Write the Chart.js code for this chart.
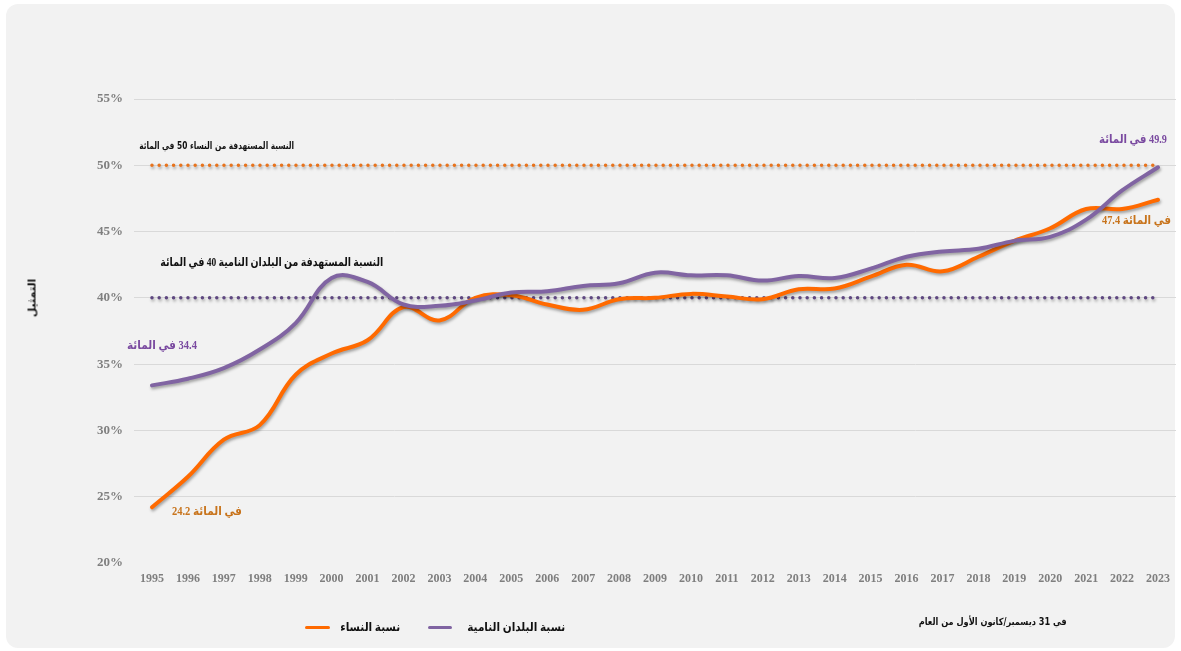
<!DOCTYPE html>
<html lang="ar">
<head>
<meta charset="utf-8">
<script src="https://cdn.jsdelivr.net/npm/chart.js@4/dist/chart.umd.min.js"></script>
<style>
  html, body { margin:0; padding:0; background:#ffffff; }
  #wrap { position:relative; width:1181px; height:651px; overflow:hidden; }
  #panel { position:absolute; left:6px; top:4px; width:1169px; height:644px; background:#f2f2f2; border-radius:12px; }
  #c { position:absolute; left:0; top:0; }
  .lbl { position:absolute; white-space:nowrap; font-weight:bold; direction:rtl; transform-origin:100% 50%;
         font-family:"Liberation Serif","DejaVu Sans",serif; }
  .sw { position:absolute; height:3px; border-radius:2px; }
</style>
</head>
<body>
<div id="wrap">
  <div id="panel"></div>
  <canvas id="c" width="1181" height="651"></canvas>
</div>
<script>
const years = ["1995","1996","1997","1998","1999","2000","2001","2002","2003","2004","2005","2006","2007","2008","2009","2010","2011","2012","2013","2014","2015","2016","2017","2018","2019","2020","2021","2022","2023"];
const womenShare = [24.2,26.5,29.3,30.4,34.2,35.8,36.8,39.3,38.3,40.0,40.2,39.5,39.1,39.9,40.0,40.3,40.1,39.9,40.65,40.7,41.6,42.5,42.0,43.1,44.3,45.25,46.7,46.7,47.4];
const developingShare = [33.4,33.9,34.7,36.1,38.1,41.5,41.2,39.5,39.4,39.8,40.4,40.5,40.9,41.1,41.9,41.7,41.7,41.3,41.65,41.5,42.2,43.1,43.5,43.7,44.3,44.6,45.9,48.1,49.85];
const womenTarget = [50,50,50,50,50,50,50,50,50,50,50,50,50,50,50,50,50,50,50,50,50,50,50,50,50,50,50,50,50];
const developingTarget = [40,40,40,40,40,40,40,40,40,40,40,40,40,40,40,40,40,40,40,40,40,40,40,40,40,40,40,40,40];
const yTicks = [20,25,30,35,40,45,50,55];

const seriesNames = { women: "نسبة النساء", developing: "نسبة البلدان النامية" };
const annotations = [
  { text: "النسبة  المستهدفة من النساء 50  في المائة", right: 294, w: 155, y: 145, size: 10, color: "#111", font: "'DejaVu Sans',sans-serif" },
  { text: "النسبة المستهدفة من البلدان النامية 40 في المائة", right: 383, w: 223, y: 262, size: 12, color: "#111" },
  { text: "34.4 في المائة", right: 197, w: 70, y: 345, size: 12, color: "#7a4aa0" },
  { text: "في المائة 24.2", right: 242, w: 70, y: 511, size: 12, color: "#c8741c" },
  { text: "49.9 في المائة", right: 1167, w: 68, y: 139, size: 12, color: "#7a4aa0" },
  { text: "في المائة 47.4", right: 1171, w: 69, y: 220, size: 12, color: "#c8741c" },
  { text: "في 31 ديسمبر/كانون الأول من العام", right: 1067, w: 148, y: 621, size: 10, color: "#111", font: "'DejaVu Sans',sans-serif" },
  { text: "نسبة النساء", right: 400, w: 60, y: 627, size: 12, color: "#111" },
  { text: "نسبة البلدان النامية", right: 565, w: 98, y: 627, size: 12, color: "#111" }
];

const wrap = document.getElementById('wrap');
annotations.forEach(a => {
  const d = document.createElement('div');
  d.className = 'lbl';
  d.textContent = a.text;
  d.style.right = (1181 - a.right) + 'px';
  d.style.top = a.y + 'px';
  d.style.fontSize = a.size + 'px';
  d.style.color = a.color;
  if (a.font) d.style.fontFamily = a.font;
  wrap.appendChild(d);
  const r = d.getBoundingClientRect();
  const sx = Math.min(1, a.w / r.width);
  d.style.transform = 'translateY(-50%) scaleX(' + sx.toFixed(3) + ')';
});
[[305,330,'#ff6a00'],[428,452,'#8064a2']].forEach(s => {
  const d = document.createElement('div');
  d.className = 'sw';
  d.style.left = s[0] + 'px'; d.style.width = (s[1]-s[0]) + 'px';
  d.style.top = '626px'; d.style.background = s[2];
  wrap.appendChild(d);
});
const yt = document.createElement('div');
yt.textContent = "التمثيل";
yt.style.cssText = "position:absolute;left:32px;top:298px;transform:translate(-50%,-50%) rotate(-90deg);font:bold 11px 'DejaVu Sans',sans-serif;color:#111;white-space:nowrap;";
wrap.appendChild(yt);

const shadowPlugin = {
  id: 'shadow',
  beforeDatasetDraw(chart) {
    const ctx = chart.ctx; ctx.save();
    ctx.shadowColor = 'rgba(0,0,0,0.35)'; ctx.shadowBlur = 3; ctx.shadowOffsetX = 1; ctx.shadowOffsetY = 2;
  },
  afterDatasetDraw(chart) { chart.ctx.restore(); }
};

new Chart(document.getElementById('c'), {
  type: 'line',
  data: {
    labels: years,
    datasets: [
      { label: seriesNames.developing, data: developingShare, borderColor: '#8064a2', borderWidth: 4, tension: 0.4, pointRadius: 0, order: 0, borderCapStyle: 'round' },
      { label: seriesNames.women, data: womenShare, borderColor: '#ff6a00', borderWidth: 4, tension: 0.4, pointRadius: 0, order: 1, borderCapStyle: 'round' },
      { label: 'target50', data: womenTarget, borderColor: '#e8731c', borderWidth: 3.5, borderDash: [0, 7.2], borderCapStyle: 'round', pointRadius: 0, order: 2 },
      { label: 'target40', data: developingTarget, borderColor: '#5e4780', borderWidth: 3.5, borderDash: [0, 7.2], borderCapStyle: 'round', pointRadius: 0, order: 2 }
    ]
  },
  options: {
    responsive: false,
    animation: false,
    layout: { padding: { left: 0, right: 5, top: 99, bottom: 58 } },
    plugins: { legend: { display: false }, tooltip: { enabled: false } },
    scales: {
      x: {
        offset: true,
        grid: { display: false, drawTicks: false },
        border: { display: false },
        ticks: { color: '#7f7f7f', font: { family: "'Liberation Serif', serif", size: 12, weight: 'bold' }, padding: 9, maxRotation: 0, autoSkip: false },
        afterFit(s) { s.height = 30; }
      },
      y: {
        min: 20, max: 55,
        afterBuildTicks(s) { s.ticks = yTicks.map(v => ({ value: v })); },
        grid: { color: ctx => ctx.tick && ctx.tick.value === 20 ? 'rgba(0,0,0,0)' : '#d9d9d9', lineWidth: 1, drawTicks: false },
        border: { display: false },
        ticks: { color: '#7f7f7f', font: { family: "'Liberation Serif', serif", size: 13, weight: 'bold' }, padding: 11, callback: v => v + '%' },
        afterFit(s) { s.width = 134; }
      }
    }
  },
  plugins: [shadowPlugin]
});
</script>
</body>
</html>
